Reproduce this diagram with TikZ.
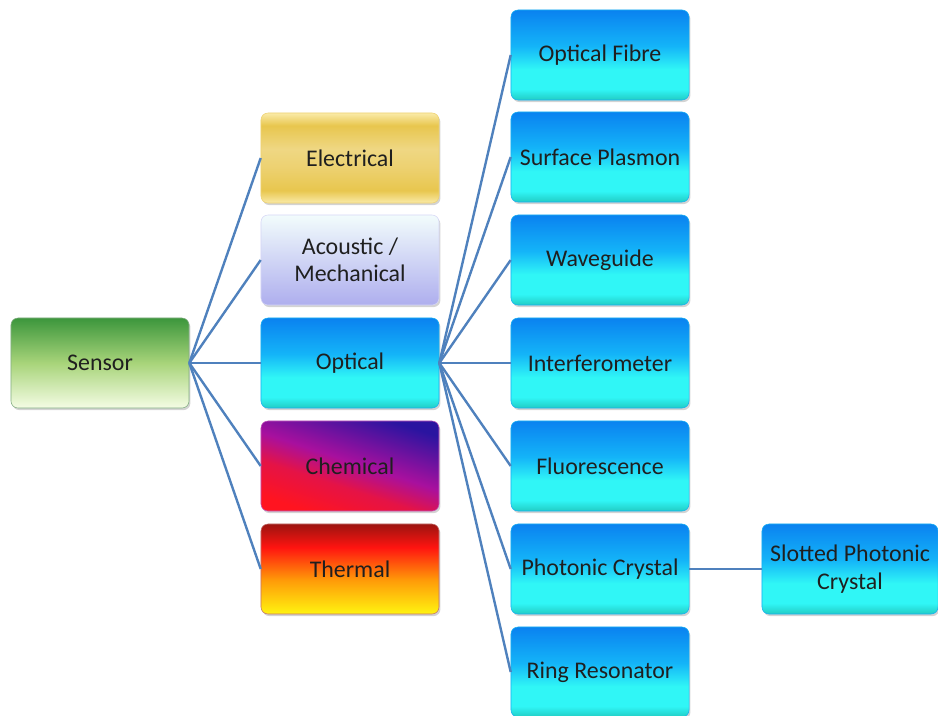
\documentclass[tikz,border=0pt]{standalone}
\usepackage{fontspec}
\setmainfont{Carlito}
\usetikzlibrary{shadows}
\definecolor{linkblue}{HTML}{4F81BD}
\definecolor{sgreentop}{HTML}{3C963C}
\definecolor{sgreenmid}{HTML}{A8D47A}
\definecolor{sgreenlow}{HTML}{F4FCE4}
\definecolor{goldlight}{HTML}{FAEBA8}
\definecolor{golddeep}{HTML}{E8C64E}
\definecolor{acutop}{HTML}{F2FCFC}
\definecolor{aculow}{HTML}{AEAEEE}
\definecolor{opttop}{HTML}{0A82F0}
\definecolor{optmid}{HTML}{14B4F8}
\definecolor{optlow}{HTML}{30F6F6}
\definecolor{optedge}{HTML}{22CCC4}
\definecolor{chemtop}{HTML}{2A14A0}
\definecolor{chemmid}{HTML}{A8109E}
\definecolor{chemlow}{HTML}{FF1420}
\definecolor{thdark}{HTML}{9C1410}
\definecolor{thred}{HTML}{FF1410}
\definecolor{thorange}{HTML}{FF9A08}
\definecolor{thyellow}{HTML}{FFF410}

\pgfdeclareverticalshading{sensorshade}{100bp}{color(0bp)=(sgreenlow); color(25bp)=(sgreenlow); color(50bp)=(sgreenmid); color(75bp)=(sgreentop); color(100bp)=(sgreentop)}
\pgfdeclareverticalshading{elecshade}{100bp}{color(0bp)=(goldlight); color(25bp)=(goldlight); color(32bp)=(golddeep); color(45bp)=(golddeep!80!white); color(55bp)=(golddeep!70!white); color(68bp)=(golddeep); color(75bp)=(goldlight); color(100bp)=(goldlight)}
\pgfdeclareverticalshading{acushade}{100bp}{color(0bp)=(aculow); color(25bp)=(aculow); color(60bp)=(acutop!70!aculow); color(75bp)=(acutop); color(100bp)=(acutop)}
\pgfdeclareverticalshading{optshade}{100bp}{color(0bp)=(optedge); color(25bp)=(optedge); color(31bp)=(optlow); color(42bp)=(optlow); color(55bp)=(optmid); color(75bp)=(opttop); color(100bp)=(opttop)}
\pgfdeclareverticalshading{chemshade}{100bp}{color(0bp)=(chemlow); color(25bp)=(chemlow); color(40bp)=(chemlow!70!chemmid); color(52bp)=(chemmid); color(75bp)=(chemtop); color(100bp)=(chemtop)}
\pgfdeclareverticalshading{thermshade}{100bp}{color(0bp)=(thyellow); color(25bp)=(thyellow); color(44bp)=(thorange); color(62bp)=(thred); color(75bp)=(thdark); color(100bp)=(thdark)}

\begin{document}
\begin{tikzpicture}[
  x=0.025cm, y=-0.025cm,
  every node/.style={font=\fontsize{17}{19.5}\selectfont, text=black!88},
  box/.style={rectangle, rounded corners=5pt, minimum width=4.45cm, minimum height=2.25cm, align=center, line width=0.4pt,
    inner xsep=2pt, drop shadow={opacity=0.35, shadow xshift=1pt, shadow yshift=-1.5pt}},
  sensorbox/.style={box, shading=sensorshade, draw=sgreentop!80!black!60},
  elecbox/.style={box, shading=elecshade, draw=golddeep!80},
  acubox/.style={box, shading=acushade, draw=aculow!50!white},
  optbox/.style={box, shading=optshade, draw=opttop!60!optlow},
  chembox/.style={box, shading=chemshade, shading angle=-18, draw=chemmid!70},
  thermbox/.style={box, shading=thermshade, draw=thdark!60},
  link/.style={draw=linkblue, line width=1.7pt}
]
\useasboundingbox (0,0) rectangle (938,715);

\node[sensorbox] (sensor) at (100,363) {Sensor};

\node[elecbox]  (elec)  at (350,158) {Electrical};
\node[acubox]   (acu)   at (350,260) {Acoustic /\\Mechanical};
\node[optbox]   (optic) at (350,363) {Optical};
\node[chembox]  (chem)  at (350,466) {Chemical};
\node[thermbox] (therm) at (350,569) {Thermal};

\node[optbox] (fibre)   at (600,55)  {Optical Fibre};
\node[optbox] (plasmon) at (600,157) {Surface Plasmon};
\node[optbox] (wguide)  at (600,260) {Waveguide};
\node[optbox] (interf)  at (600,363) {Interferometer};
\node[optbox] (fluor)   at (600,466) {Fluorescence};
\node[optbox] (phc)     at (600,569) {Photonic Crystal};
\node[optbox] (ring)    at (600,672) {Ring Resonator};

\node[optbox, minimum width=4.4cm] (slotted) at (850,569) {Slotted Photonic\\Crystal};

\foreach \n in {elec,acu,optic,chem,therm}
  \draw[link] (sensor.east) -- (\n.west);
\foreach \n in {fibre,plasmon,wguide,interf,fluor,phc,ring}
  \draw[link] (optic.east) -- (\n.west);
\draw[link] (phc.east) -- (slotted.west);
\end{tikzpicture}
\end{document}
